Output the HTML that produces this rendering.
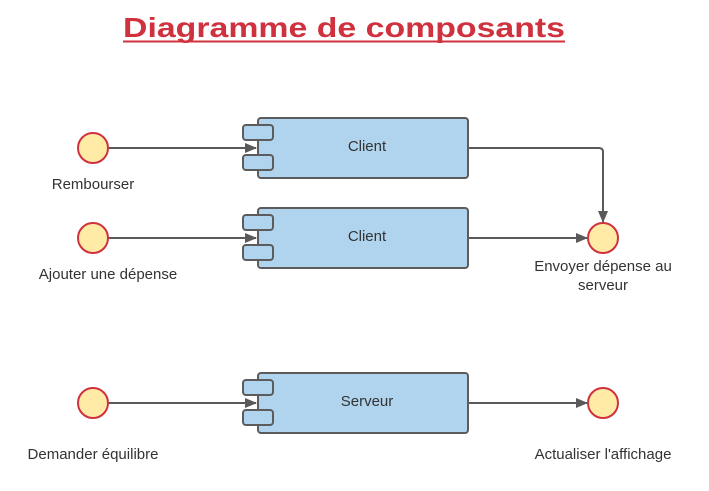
<!DOCTYPE html>
<html><head><meta charset="utf-8"><style>
html,body{margin:0;padding:0;background:#fff;}
svg{display:block;}
text{font-family:"Liberation Sans",sans-serif;fill:#333;}
</style></head><body>
<svg width="709" height="491" viewBox="0 0 709 491" xmlns="http://www.w3.org/2000/svg">
<defs>
<marker id="a" markerWidth="12" markerHeight="10" refX="11" refY="5" orient="auto" markerUnits="userSpaceOnUse">
<path d="M0,0 L12,5 L0,10 z" fill="#5a5a5a"/></marker>
</defs>
<text x="123" y="37" font-size="28" font-weight="bold" textLength="442" lengthAdjust="spacingAndGlyphs" style="fill:#d0313e">Diagramme de composants</text>
<line x1="123" y1="41.5" x2="565" y2="41.5" stroke="#d0313e" stroke-width="2"/>

<g stroke="#5a5a5a" stroke-width="2" fill="none">
<line x1="108" y1="148" x2="256" y2="148" marker-end="url(#a)"/>
<line x1="108" y1="238" x2="256" y2="238" marker-end="url(#a)"/>
<line x1="108" y1="403" x2="256" y2="403" marker-end="url(#a)"/>
<path d="M468,148 H599 Q603,148 603,152 V222" marker-end="url(#a)"/>
<line x1="468" y1="238" x2="587" y2="238" marker-end="url(#a)"/>
<line x1="468" y1="403" x2="587" y2="403" marker-end="url(#a)"/>
</g>

<g fill="#b0d4ee" stroke="#5c5c5c" stroke-width="2">
<rect x="258" y="118" width="210" height="60" rx="3"/>
<rect x="243" y="125" width="30" height="15" rx="3"/>
<rect x="243" y="155" width="30" height="15" rx="3"/>
<rect x="258" y="208" width="210" height="60" rx="3"/>
<rect x="243" y="215" width="30" height="15" rx="3"/>
<rect x="243" y="245" width="30" height="15" rx="3"/>
<rect x="258" y="373" width="210" height="60" rx="3"/>
<rect x="243" y="380" width="30" height="15" rx="3"/>
<rect x="243" y="410" width="30" height="15" rx="3"/>
</g>

<g fill="#ffeaa6" stroke="#d0313e" stroke-width="2">
<circle cx="93" cy="148" r="15"/>
<circle cx="93" cy="238" r="15"/>
<circle cx="93" cy="403" r="15"/>
<circle cx="603" cy="238" r="15"/>
<circle cx="603" cy="403" r="15"/>
</g>

<g font-size="15" text-anchor="middle">
<text x="367" y="151">Client</text>
<text x="367" y="241">Client</text>
<text x="367" y="406">Serveur</text>
<text x="93" y="189">Rembourser</text>
<text x="108" y="279">Ajouter une dépense</text>
<text x="93" y="459">Demander équilibre</text>
<text x="603" y="271">Envoyer dépense au</text>
<text x="603" y="290">serveur</text>
<text x="603" y="459">Actualiser l'affichage</text>
</g>
</svg>
</body></html>
